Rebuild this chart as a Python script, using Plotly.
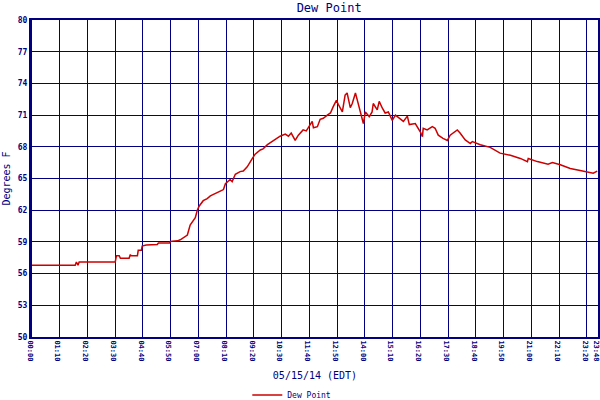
import plotly.graph_objects as go

# time of day in minutes since 00:00 (05/15/14 EDT)
minutes = [0, 109, 112, 116, 119, 210, 213, 220, 223, 245, 248, 250, 266, 268, 276, 278, 288, 316, 319, 347,
           349, 367, 374, 384, 392, 399, 407, 412, 417, 422, 432, 442, 450, 462, 475, 483, 488, 500, 505, 513,
           525, 533, 543, 556, 563, 576, 583, 594, 606, 616, 626, 639, 647, 654, 664, 672, 684, 692, 702, 707,
           710, 720, 727, 735, 745, 753, 760, 768, 773, 778, 783, 790, 795, 803, 808, 816, 821, 828, 833, 836,
           841, 851, 858, 861, 871, 876, 884, 891, 899, 909, 917, 929, 937, 947, 952, 967, 980, 985, 987, 997,
           1010, 1017, 1025, 1037, 1048, 1055, 1073, 1080, 1093, 1106, 1111, 1131, 1156, 1181, 1207, 1232, 1250, 1252, 1275, 1302,
           1313, 1333, 1358, 1383, 1408, 1416, 1426]
dew_point = [56.8, 56.8, 57.1, 56.8, 57.1, 57.1, 57.7, 57.7, 57.45, 57.45, 57.8, 57.7, 57.7, 58.2, 58.2, 58.6, 58.7, 58.75, 58.9, 58.9,
             59.05, 59.1, 59.2, 59.5, 59.65, 60.6, 61.1, 61.3, 62.0, 62.4, 62.9, 63.1, 63.35, 63.6, 63.8, 63.95, 64.5, 64.9, 64.7, 65.4,
             65.65, 65.7, 66.1, 66.9, 67.3, 67.7, 67.8, 68.2, 68.5, 68.7, 69.0, 69.2, 69.0, 69.3, 68.6, 69.1, 69.6, 69.5, 70.1, 70.4,
             69.8, 69.9, 70.6, 70.7, 71.0, 71.2, 71.8, 72.4, 72.0, 71.6, 71.3, 72.9, 73.1, 71.7, 72.1, 73.1, 72.3, 71.3, 70.5, 70.2,
             71.3, 70.85, 71.3, 72.1, 71.5, 72.3, 71.65, 71.2, 71.3, 70.5, 71.0, 70.6, 70.4, 70.9, 70.1, 70.2, 69.4, 68.95, 69.75, 69.6,
             69.9, 69.75, 69.1, 68.8, 68.6, 69.1, 69.6, 69.3, 68.65, 68.3, 68.5, 68.2, 67.95, 67.4, 67.2, 66.9, 66.6, 66.9, 66.6, 66.35,
             66.5, 66.3, 65.95, 65.75, 65.55, 65.5, 65.7]

x_tick_vals = [0, 70, 140, 210, 280, 350, 420, 490, 560, 630, 700, 770, 840, 910, 980, 1050, 1120, 1190, 1260, 1330, 1400, 1428]
x_tick_text = ["00:00", "01:10", "02:20", "03:30", "04:40", "05:50", "07:00", "08:10", "09:20", "10:30", "11:40",
               "12:50", "14:00", "15:10", "16:20", "17:30", "18:40", "19:50", "21:00", "22:10", "23:20", "23:48"]
y_tick_vals = [50, 53, 56, 59, 62, 65, 68, 71, 74, 77, 80]

NAVY = "#000080"
MONO = "DejaVu Sans Mono"

fig = go.Figure()
fig.add_trace(go.Scatter(x=minutes, y=dew_point, mode="lines", name="Dew Point",
                         line=dict(color="#cc0000", width=1.5)))

fig.update_layout(
    width=600, height=400,
    margin=dict(l=32, r=2, t=20, b=63, autoexpand=False),
    paper_bgcolor="white", plot_bgcolor="white",
    title=dict(text="Dew Point", x=(32 + 598) / 2 / 600, xanchor="center", xref="paper",
               yref="container", y=0.98, yanchor="middle",
               font=dict(family=MONO, size=12, color=NAVY)),
    showlegend=True,
    legend=dict(orientation="h", x=0.459, xanchor="center", y=-0.183, yanchor="middle",
                font=dict(family=MONO, size=8, color=NAVY), bgcolor="rgba(0,0,0,0)"),
    font=dict(family=MONO, color=NAVY),
)
fig.update_xaxes(range=[0, 1428], tickvals=x_tick_vals, ticktext=x_tick_text, tickangle=90,
                 tickfont=dict(family=MONO, size=7, color=NAVY, weight="bold"), automargin=False,
                 ticklabeloverflow="allow", ticklabelshift=-2,
                 showgrid=True, gridcolor=NAVY, gridwidth=1,
                 showline=True, linecolor=NAVY, linewidth=2, mirror=True, zeroline=False,
                 ticks="", title=dict(text="05/15/14 (EDT)", font=dict(family=MONO, size=10, color=NAVY), standoff=12))
fig.update_yaxes(range=[50, 80], tickvals=y_tick_vals, automargin=False,
                 tickfont=dict(family=MONO, size=8, color=NAVY, weight="bold"),
                 showgrid=True, gridcolor=NAVY, gridwidth=1,
                 showline=True, linecolor=NAVY, linewidth=3, mirror=True, zeroline=False,
                 ticks="", title=dict(text="Degrees F", font=dict(family=MONO, size=10, color=NAVY), standoff=6))

fig.write_html("out.html", config={"displayModeBar": False},
               post_script="document.body.style.margin='0';document.body.style.overflow='hidden';")
